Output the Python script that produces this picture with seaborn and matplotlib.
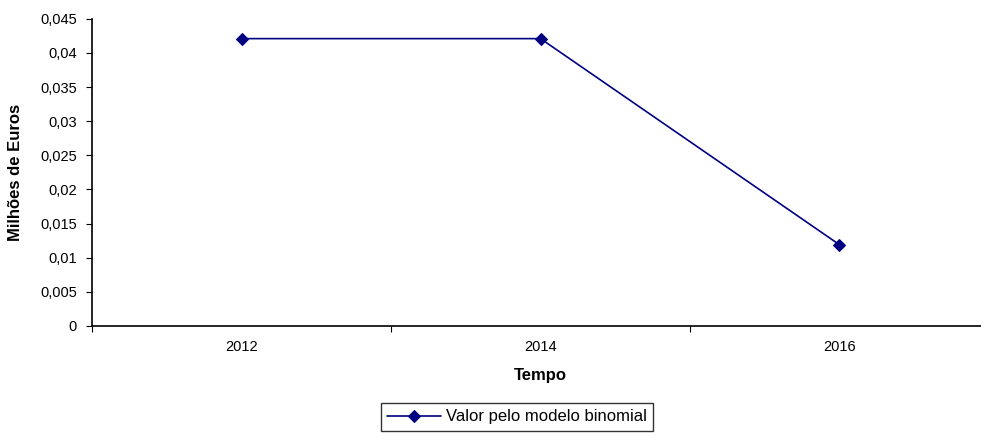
import matplotlib
matplotlib.use("Agg")
import matplotlib.pyplot as plt
from matplotlib.ticker import FixedLocator, FuncFormatter
import seaborn as sns
import pandas as pd

# Valores
anos = ['2012', '2014', '2016']
valores = [0.0421, 0.0421, 0.0119]
serie = 'Valor pelo modelo binomial'

df = pd.DataFrame({'Tempo': anos, 'Valor': valores})

sns.set_theme(style="white")
plt.rcParams['font.family'] = ['Liberation Sans', 'DejaVu Sans']
plt.rcParams['text.color'] = 'black'
plt.rcParams['axes.labelcolor'] = 'black'
plt.rcParams['xtick.color'] = 'black'
plt.rcParams['ytick.color'] = 'black'

fig = plt.figure(figsize=(9.81, 4.38), dpi=100)
ax = fig.add_axes([0.094, 0.256, 0.914, 0.701])

sns.lineplot(data=df, x='Tempo', y='Valor', ax=ax, color='#000080',
             marker='D', markersize=6, markeredgecolor='#000080',
             linewidth=1.2, label=serie, legend=False)

ax.set_xlim(-0.5, len(anos) - 0.5)
ax.set_ylim(0, 0.045)
ax.set_yticks([i * 0.005 for i in range(10)])
ax.yaxis.set_major_formatter(FuncFormatter(
    lambda v, p: '0' if abs(v) < 1e-12 else f'{v:.3f}'.rstrip('0').replace('.', ',')))

# categorias centradas, marcas nas fronteiras
ax.set_xticks(range(len(anos)))
ax.set_xticklabels(anos)
ax.xaxis.set_minor_locator(FixedLocator([i - 0.5 for i in range(len(anos) + 1)]))
ax.tick_params(axis='x', which='major', length=0, pad=10, labelsize=10.5)
ax.tick_params(axis='x', which='minor', length=4, width=0.8, color='black', bottom=True)
ax.tick_params(axis='y', length=4, width=0.8, color='black', left=True, labelsize=10.5, pad=7)

for s in ['top', 'right']:
    ax.spines[s].set_visible(False)
for s in ['left', 'bottom']:
    ax.spines[s].set_color('black')
    ax.spines[s].set_linewidth(1.2)

ax.set_xlabel('Tempo', fontsize=12, fontweight='bold', labelpad=10)
ax.set_ylabel('Milhões de Euros', fontsize=12, fontweight='bold', labelpad=12)

h, l = ax.get_legend_handles_labels()
leg = fig.legend(h, l, loc='center', bbox_to_anchor=(517 / 981, 1 - 417 / 438),
                 fontsize=12, frameon=True, fancybox=False, edgecolor='black',
                 borderpad=0.4, handlelength=3.2, handletextpad=0.3)
leg.get_frame().set_linewidth(1.0)

fig.savefig('out.png', dpi=100)
